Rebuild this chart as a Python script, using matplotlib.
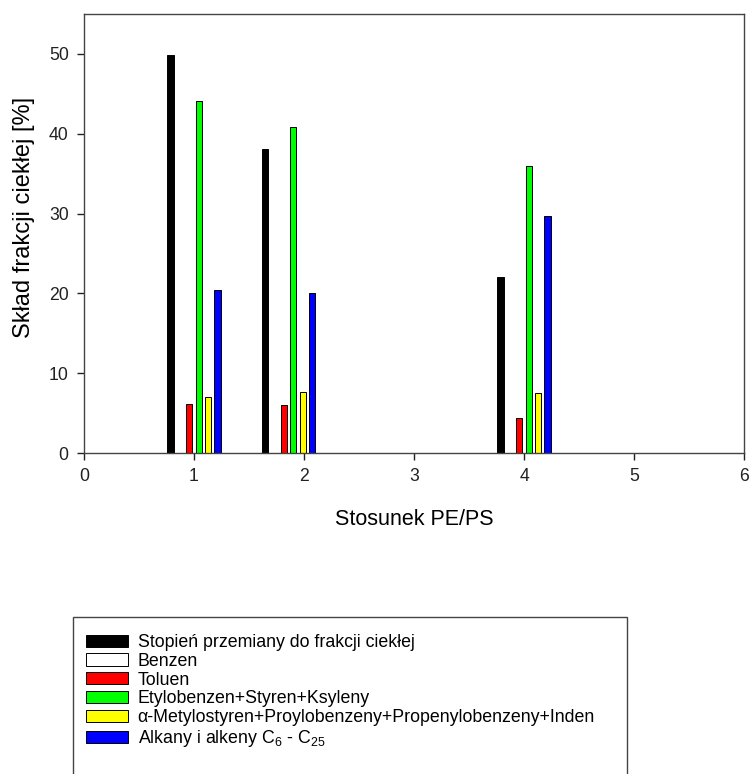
import numpy as np
import matplotlib
matplotlib.use('Agg')
import matplotlib.pyplot as plt
from matplotlib.patches import Rectangle

plt.rcParams['font.family'] = ['Liberation Sans', 'DejaVu Sans']
plt.rcParams['mathtext.fontset'] = 'custom'
plt.rcParams['mathtext.rm'] = 'Liberation Sans'
plt.rcParams['mathtext.it'] = 'Liberation Sans'

# group positions (PE/PS ratio as drawn)
group_x = [1.0, 1.86, 4.0]

series_names = [
    'Stopień przemiany do frakcji ciekłej',
    'Benzen',
    'Toluen',
    'Etylobenzen+Styren+Ksyleny',
    'α-Metylostyren+Proylobenzeny+Propenylobenzeny+Inden',
    'Alkany i alkeny C$_6$ - C$_{25}$',
]
stopien = [49.9, 38.1, 22.0]
benzen = [0.0, 0.0, 0.0]
toluen = [6.2, 6.0, 4.4]
etylobenzen = [44.1, 40.8, 36.0]
metylostyren = [7.0, 7.7, 7.5]
alkany = [20.4, 20.0, 29.7]
colors = ['#000000', '#ffffff', '#ff0000', '#00ff00', '#ffff00', '#0000ff']

series = [stopien, benzen, toluen, etylobenzen, metylostyren, alkany]

W, H = 749, 774
fig = plt.figure(figsize=(W / 100, H / 100), dpi=100)
ax = fig.add_axes([84 / W, 1 - 453 / H, (744 - 84) / W, (453 - 14) / H])

slot = 0.0855
bw = 0.055
x = np.array(group_x)
for i, (vals, c) in enumerate(zip(series, colors)):
    ax.bar(x + (i - 2.5) * slot, vals, width=bw, color=c,
           edgecolor='black', linewidth=0.7, label=series_names[i], zorder=2)

ax.set_xlim(0, 6)
ax.set_ylim(0, 55)
ax.set_xticks(range(0, 7))
ax.set_yticks(range(0, 51, 10))
ax.tick_params(direction='out', length=5, width=1, labelsize=12.7,
               colors='#222222', pad=6)
for s in ax.spines.values():
    s.set_color('#444444')
    s.set_linewidth(1.0)

ax.set_xlabel('Stosunek PE/PS', fontsize=15.5, labelpad=17)
ax.set_ylabel('Skład frakcji ciekłej [%]', fontsize=17)
ax.yaxis.set_label_coords(-0.074, 0.537)

handles, labels = ax.get_legend_handles_labels()
leg = fig.legend(handles, labels, loc='upper left',
                 bbox_to_anchor=(86 / W, 1 - 634 / H),
                 frameon=False, fontsize=12.8, handlelength=2.35,
                 handleheight=0.67, labelspacing=0.1, handletextpad=0.55,
                 borderpad=0, borderaxespad=0)

fig.patches.append(Rectangle((73 / W, -0.01), (627 - 73) / W, 1 - 617 / H + 0.01,
                             transform=fig.transFigure, fill=False,
                             edgecolor='#444444', linewidth=1.0))

fig.savefig('out.png', dpi=100)
